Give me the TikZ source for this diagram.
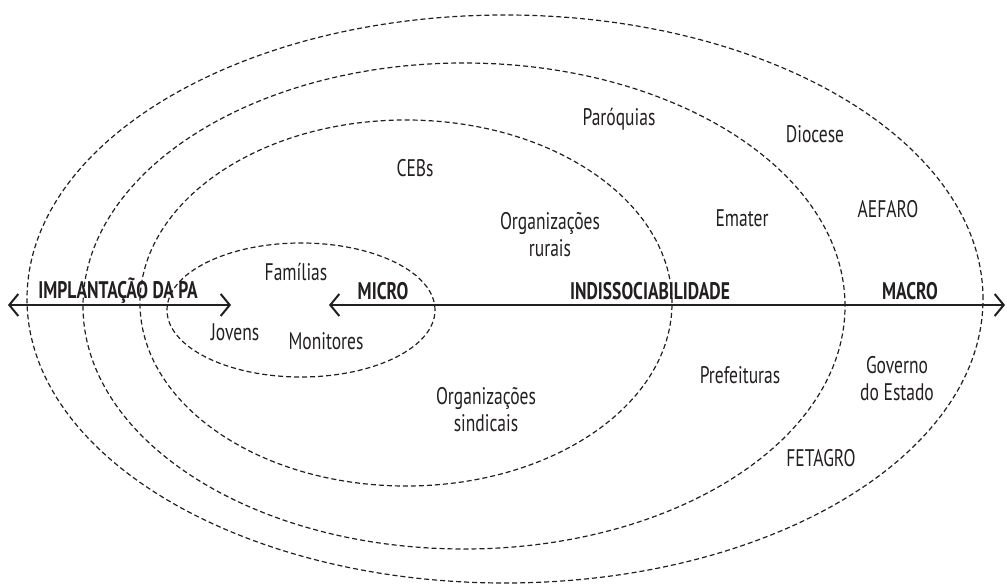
\documentclass[tikz,border=0pt]{standalone}
\usepackage{fontspec}
\setmainfont{PT Sans}[FakeStretch=0.73]
\usetikzlibrary{arrows.meta,positioning}
\definecolor{ink}{HTML}{231F20}

\begin{document}
\begin{tikzpicture}[x=1pt,y=-1pt,
    every node/.style={font=\fontsize{24}{27}\selectfont,text=ink,align=center,inner sep=0pt},
    ring/.style={draw=ink,line width=1.2pt,dash pattern=on 5pt off 3pt},
    axislabel/.style={font=\fontsize{24}{27}\selectfont\bfseries},
    axis/.style={draw=ink,line width=2.6pt,{Straight Barb[length=9pt,width=22pt,line width=2pt]}-{Straight Barb[length=9pt,width=22pt,line width=2pt]}}]
        \useasboundingbox (0,0) rectangle (1007,585);
        % circles of action
        \draw[ring] (505,299) ellipse [x radius=478pt, y radius=284pt];
        \draw[ring] (464,306) ellipse [x radius=381pt, y radius=243pt];
        \draw[ring] (406,303) ellipse [x radius=266pt, y radius=183pt];
        \draw[ring] (301,310) ellipse [x radius=134pt, y radius=67pt];
        % axis
        \coordinate (pa-l) at (8,305);
        \coordinate (pa-r) at (231,305);
        \coordinate (micro-l) at (329,305);
        \coordinate (macro-r) at (1005,305);
        \draw[axis] (pa-l) -- (pa-r);
        \draw[axis] (micro-l) -- (macro-r);
        \node[axislabel] (implant) at (118,291) {IMPLANTAÇÃO DA PA};
        \node[axislabel] (micro) at (383,291) {MICRO};
        \node[axislabel] (indiss) at (650,291) {INDISSOCIABILIDADE};
        \node[axislabel] (macro) at (910,291) {MACRO};
        % actors
        \node (familias) at (296,272) {Famílias};
        \node (jovens) at (235,332) {Jovens};
        \node (monitores) at (326,341) {Monitores};
        \node (cebs) at (415,168) {CEBs};
        \node (orgrurais) at (550,235) {Organizações\\rurais};
        \node (orgsind) at (486,410) {Organizações\\sindicais};
        \node (paroquias) at (619,119) {Paróquias};
        \node (ematter) at (742,218) {Emater};
        \node (prefeituras) at (740,375) {Prefeituras};
        \node (fetagro) at (821,458) {FETAGRO};
        \node (diocese) at (815,134) {Diocese};
        \node (aefaro) at (888,209) {AEFARO};
        \node (governo) at (897,379) {Governo\\do Estado};
  \end{tikzpicture}
\end{document}
